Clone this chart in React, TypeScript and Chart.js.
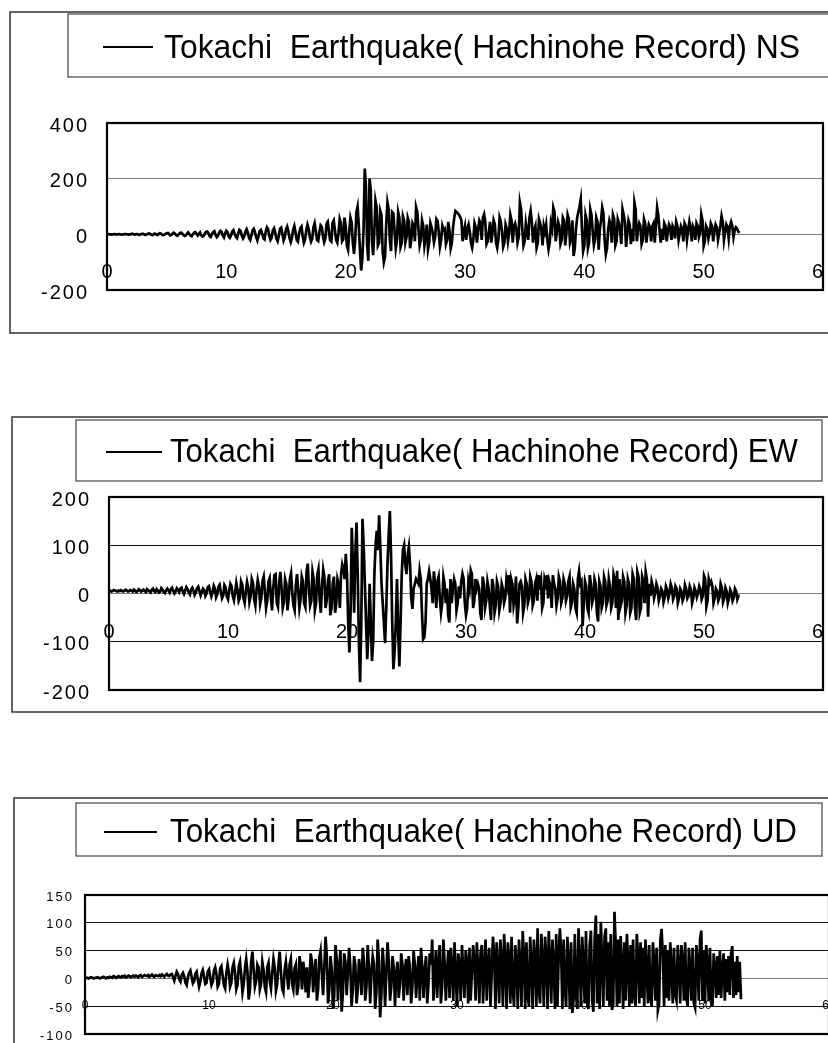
import React, { useEffect, useRef } from "react";
import { Chart, registerables } from "chart.js";

Chart.register(...registerables);

// ---------------- data ----------------
const DT = 0.1; // sampling step (s) of the digitised records
const X_TICKS = [0, 10, 20, 30, 40, 50, 60];
const NS_Y_TICKS = [-200, 0, 200, 400];
const EW_Y_TICKS = [-200, -100, 0, 100, 200];
const UD_Y_TICKS = [-100, -50, 0, 50, 100, 150];

const NS_LABEL = "Tokachi  Earthquake( Hachinohe Record) NS";
const EW_LABEL = "Tokachi  Earthquake( Hachinohe Record) EW";
const UD_LABEL = "Tokachi  Earthquake( Hachinohe Record) UD";

// one row per second, 10 samples per row
const NS_VALUES = [
  0, 1, 0, 0, -1, 0, 1, 0, 0, 0,
  1, 0, -1, 0, 0, 1, 1, 0, -1, 0,
  0, 2, 1, -1, 0, 1, 0, -2, 0, 1,
  2, 0, -2, -1, 1, 3, 2, -1, -3, 0,
  3, 1, -2, 0, 4, 3, -1, -3, -2, 2,
  4, 5, 1, -4, -2, 3, 6, 2, -3, -5,
  0, 4, 6, 3, -2, -6, -4, 2, 7, 1,
  -5, -7, 0, 6, 8, 2, -4, 1, 7, -3,
  -8, -6, 3, 9, 10, 4, -6, -9, 2, 8,
  11, -2, -10, -5, 6, 12, 9, -4, -11, 3,
  13, 8, -7, -12, -3, 10, 15, 2, -9, -14,
  4, 16, 12, -5, -15, -8, 9, 18, 6, -12,
  -20, -4, 14, 20, 8, -10, -22, -6, 12, 16,
  3, -14, -18, 10, 25, 18, -5, -20, -12, 15,
  22, 6, -16, -25, -4, 20, 24, 2, -22, -10,
  18, 28, 10, -14, -28, -12, 16, 30, 8, -20,
  -26, 4, 22, 28, -6, -30, -18, 14, 35, 20,
  -10, -26, -15, 25, 40, 12, -20, -24, 8, 32,
  26, -8, -28, -14, 38, 45, 10, -22, -26, 42,
  50, 15, -20, -30, 5, 55, 40, -25, -18, 60,
  30, -40, -55, 10, 60, 42, -30, -70, -20, 80,
  100, 30, -60, -130, -85, 20, 236, 170, -40, -95,
  200, 160, -20, -75, 10, 120, 95, -40, -30, 85,
  70, -60, -100, -80, 40, 115, 90, -20, -60, 80,
  75, 10, -50, -20, 80, 60, -45, -30, 65, 50,
  -30, -10, 60, 45, -50, -20, 40, 30, -25, 97,
  80, 20, -40, -20, 50, 30, -40, -10, 35, -55,
  -30, 40, 25, 5, -30, -10, 55, 48, 10, -45,
  -20, 30, 15, 20, -35, -20, 45, 12, -50, -30,
  25, 60, 84, 80, 75, 70, 62, 50, -25, 10,
  30, -20, 20, 35, 10, -30, -48, -20, 40, 25,
  -30, 15, 50, 40, -20, 60, 72, 45, -35, -25,
  10, 45, -30, 5, 50, 35, -30, -48, -15, 60,
  45, 10, -45, -30, 35, 20, -25, 5, 70, 50,
  -30, 30, 40, 20, -30, -10, 114, 90, 20, -40,
  -25, 40, 10, -20, 60, 84, 45, -30, 15, 30,
  -48, -30, 55, 40, 15, -40, 30, 10, 35, -20,
  -54, -30, 40, 20, 96, 80, -25, 10, 45, 30,
  -35, -20, 60, 50, -40, 5, 70, 55, -30, -15,
  50, -78, -50, 20, 60, 80, 100, 126, 20, -60,
  -40, 70, 50, -50, -30, 90, 70, 10, -40, -20,
  60, 45, -55, 20, 50, 96, 75, -20, -72, -50,
  20, 50, 35, -30, 70, 55, -40, -25, 55, 40,
  10, -35, 90, 70, 45, -45, 5, 50, 35, -35,
  20, -25, 114, 90, -25, 20, 40, 30, -35, -20,
  55, 40, -30, 10, 35, 25, -25, 30, 40, -30,
  30, 96, 70, 15, -30, 20, -20, 40, 30, -25,
  10, 35, 25, -20, 30, 20, -15, 45, 30, -20,
  5, 30, 20, -25, 40, 30, -20, 15, 45, 20,
  -25, 30, 20, -20, 40, 30, -10, 5, 72, 50,
  -42, -25, 30, 20, -15, 5, 40, 30, -25, 10,
  35, 25, -20, 5, 30, 66, 45, -20, 10, 35,
  25, -15, 30, 45, 30, -10, 15, 25, 20, 10,
  5,
];

const EW_VALUES = [
  5, 6, 4, 5, 7, 6, 5, 4, 6, 5,
  7, 5, 4, 6, 8, 6, 4, 5, 7, 6,
  4, 8, 6, 3, 5, 9, 7, 4, 6, 8,
  5, 3, 9, 7, 4, 2, 8, 10, 5, 3,
  9, 6, 2, 4, 11, 8, 3, 1, 7, 10,
  6, 2, 9, 12, 5, 0, 4, 11, 8, 3,
  10, 12, 4, -1, 6, 13, 9, 2, -2, 8,
  12, 6, -3, 2, 11, 14, 5, -4, 3, 10,
  7, -5, 0, 13, 15, 4, -6, 2, 16, 10,
  -8, -2, 14, 18, 3, -10, -4, 17, 12, -6,
  -12, 6, 20, 15, -5, -14, 2, 22, 8, -15,
  -8, 25, 18, -10, -20, 5, 24, 12, -18, -6,
  30, 22, -12, -25, 8, 28, 15, -22, -10, 26,
  35, 4, -30, -15, 25, 32, -8, -35, 10, 38,
  40, -20, -28, 22, 45, 12, -30, -18, 30, 20,
  -35, -10, 30, 42, 2, -25, -35, 18, 40, 8,
  -30, -12, 35, 25, -20, -28, 45, 62, 10, -25,
  -15, 45, 30, -35, -20, 38, 50, -10, -40, 15,
  50, 35, -30, -12, 25, 40, -45, -30, 20, 35,
  -40, -20, 30, 20, -30, 40, 60, 50, 30, 82,
  40, -60, -122, -40, 136, 60, -40, 80, 147, 40,
  -100, -184, -60, 155, 100, 20, -60, -136, -80, 20,
  -60, -140, -100, 40, 100, 130, 90, 162, 96, 20,
  -20, -60, -103, -30, 60, 120, 171, 80, -60, -157,
  -120, -60, 30, -80, -151, -60, 40, 90, 100, 60,
  40, 80, 97, 60, -10, -32, 10, 20, 30, 25,
  20, 48, 30, -40, -95, -91, -60, 21, 30, 46,
  30, 10, -20, 46, 20, -30, 25, 35, -10, -40,
  -20, 35, 20, -20, 10, -45, -60, 30, -20, 10,
  30, 20, -35, -20, 15, -10, 25, 41, 30, -20,
  -45, -30, 25, 10, 48, 40, -30, -15, 30, 10,
  20, 10, -40, -55, 35, 20, -30, -15, 25, 10,
  -25, -55, 30, 15, -40, -25, 25, 15, -35, -20,
  20, 10, -20, -10, 30, 15, 38, -40, 30, 20,
  -25, -10, 35, -62, -30, 20, 25, 15, -40, -25,
  30, 20, -20, -10, 35, 25, -25, -15, 20, 30,
  -15, 38, 20, 30, -30, -20, 30, 20, 38, -10,
  25, 15, -30, 38, 20, 10, -25, -10, 35, 25,
  -20, -10, 30, 20, -15, -5, 25, 35, -30, -20,
  20, 10, -30, -40, 30, 46, 20, 25, -67, -20,
  25, 15, -30, -40, 38, 20, -20, -10, 30, 20,
  -40, -58, 25, 15, -30, -20, 35, 25, -25, -15,
  30, 15, -30, -20, 40, 30, -30, 47, -55, 30,
  -25, -15, 35, 25, -40, -25, 30, 20, -40, -30,
  40, 30, -30, -55, 45, 35, -40, -30, 35, 25,
  -20, 45, 30, -48, 20, -5, 25, 15, -10, 0,
  20, 12, -15, -5, 10, 5, -18, -8, 15, 8,
  -10, 0, 20, 12, -12, -5, 15, 10, -20, -10,
  10, 5, -15, -8, 18, 10, -10, -5, 15, 8,
  -20, -10, 12, 5, -8, 0, 15, 8, -12, -5,
  37, 30, -27, -15, 30, 20, 25, 15, -20, -10,
  10, 5, -15, -8, 20, 12, -18, -10, 12, 5,
  -20, -10, 8, 2, -15, -8, 10, 5, -12, -5,
  -5,
];

const UD_VALUES = [
  0, 1, 1, 0, 1, 2, 1, 0, 1, 1,
  2, 1, 0, 1, 2, 3, 1, 0, 2, 1,
  3, 2, 1, 4, 3, 1, 2, 4, 3, 2,
  4, 3, 5, 2, 3, 5, 4, 2, 4, 5,
  3, 5, 4, 2, 5, 6, 3, 4, 6, 5,
  4, 6, 3, 5, 7, 4, 3, 6, 5, 4,
  6, 4, 7, 5, 3, 6, 8, 5, 4, 7,
  8, 2, -4, 5, 12, 8, -2, -6, 6, 10,
  4, -8, -12, 2, 10, 14, 3, -9, -5, 8,
  12, -2, -15, -6, 9, 15, 4, -10, -8, 12,
  16, 2, -12, -6, 14, 20, 8, -15, -10, 18,
  22, 5, -12, -18, 10, 25, 12, -15, -8, 20,
  28, 10, -20, -12, 22, 30, 5, -25, -10, 18,
  35, 12, -38, -20, 30, 48, 15, -15, -5, 25,
  20, -20, -10, 30, 15, -15, -25, 20, 28, -5,
  -18, 10, 35, 20, -22, -10, 25, 48, 12, -18,
  -25, 15, 30, 5, -20, 25, 35, -10, -20, 18,
  25, -30, -15, 40, 22, -20, 30, 10, -25, 20,
  -35, -10, 45, 30, -25, 10, 35, -40, -20, 38,
  50, 10, -30, 20, 75, 40, -45, -20, 40, 15,
  -55, -30, 60, 35, -40, 20, 50, -60, -25, 45,
  30, -30, 10, 55, 20, -50, -20, 40, 25, -45,
  -20, 35, 15, -30, 55, 30, -40, -15, 60, 20,
  -45, 10, 40, 25, -55, -25, 70, 35, -70, -30,
  55, 20, -50, 10, 65, 30, -40, -15, 40, 20,
  -50, 5, 30, -35, -10, 45, 25, -40, 15, 35,
  -30, 40, 20, -45, -15, 50, 25, -35, 10, 40,
  -40, 55, 20, -35, 15, 40, -45, -10, 45, 25,
  70, -40, 10, 50, -35, 25, 60, -45, -15, 70,
  30, -40, 15, 50, -35, 55, 20, -40, 65, 10,
  -50, 45, 25, -40, 60, 15, -35, 50, 30, -45,
  55, -40, 10, 60, 30, -40, 65, 20, -45, 45,
  60, -45, 15, 70, -40, 30, 55, -50, 10, 75,
  40, -55, 65, 20, -45, 70, 30, -50, 80, 25,
  -55, 65, 35, -45, 75, -20, -50, 60, 30, -55,
  70, 20, -50, 85, 40, -55, 65, -30, -50, 75,
  25, -55, 70, 35, -50, 90, -20, -45, 80, 30,
  -50, 75, 40, -55, 85, 30, -45, 70, 20, -55,
  80, -50, 40, 90, 45, -55, 70, -20, -50, 75,
  30, -55, 65, -62, -40, 80, -30, -55, 90, 25,
  -50, 75, 20, -45, 85, -35, -55, 60, 86, -40,
  -60, 70, 113, -45, 80, -55, 102, 30, -50, 75,
  90, -40, 65, -50, 80, -57, -45, 120, 60, -50,
  70, -45, 76, 20, -55, 65, -40, 80, 30, -50,
  60, -45, 70, -30, -50, 80, 40, -45, 65, -35,
  55, -50, 70, 20, -45, 60, -35, -50, 65, 30,
  -40, 55, -57, -45, 70, 89, 40, -50, 60, -35,
  50, -40, 65, 20, -45, 55, -30, -40, 60, 25,
  -45, 60, 30, -40, 65, -35, -50, 55, 20, -40,
  55, -45, -53, 60, 30, -40, 70, 86, -40, 50,
  -45, 60, 25, -40, 55, -35, -50, 45, 20, -35,
  40, -30, 50, -35, 15, 45, -40, 35, -25, 40,
  -30, 45, 58, -35, 30, -30, 40, -25, 30, -35,
  -35,
];

// ---------------- layout ----------------
const CANVAS_W = 900;
const FONT = "'Liberation Sans', Arial, Helvetica, sans-serif";

type Rect = [number, number, number, number];
type PanelCfg = {
  top: number;
  height: number;
  outer: Rect;
  legend: Rect;
  legendLine: [number, number, number];
  legendText: [number, number, number]; // x, baseline, target width
  legendFont: number;
  plot: { left: number; top: number; right: number; bottom: number };
  yMin: number;
  yMax: number;
  yTicks: number[];
  yFont: number;
  ySpacing: number;
  yOffset: number;
  xFont: number;
  yPad: number;
  xPad: number;
  gridColor: string;
  zeroColor: string;
  clipRight: boolean;
  label: string;
  values: number[];
};

const PANELS: PanelCfg[] = [
  {
    top: 0,
    height: 380,
    outer: [10, 12, 890, 333],
    legend: [68, 14, 890, 77],
    legendLine: [103, 153, 47],
    legendText: [164, 58, 636],
    legendFont: 34,
    plot: { left: 107, top: 123, right: 823, bottom: 290 },
    yMin: -200,
    yMax: 400,
    yTicks: NS_Y_TICKS,
    yFont: 20,
    ySpacing: 2,
    yOffset: 3,
    xFont: 20,
    yPad: 18,
    xPad: 26,
    gridColor: "#7a7a7a",
    zeroColor: "#7a7a7a",
    clipRight: true,
    label: NS_LABEL,
    values: NS_VALUES,
  },
  {
    top: 400,
    height: 360,
    outer: [12, 17, 890, 312],
    legend: [76, 20, 822, 81],
    legendLine: [106, 162, 52],
    legendText: [170, 62, 628],
    legendFont: 34,
    plot: { left: 109, top: 97, right: 823, bottom: 290 },
    yMin: -200,
    yMax: 200,
    yTicks: EW_Y_TICKS,
    yFont: 20,
    ySpacing: 2,
    yOffset: 3,
    xFont: 20,
    yPad: 18,
    xPad: 27,
    gridColor: "#111111",
    zeroColor: "#7a7a7a",
    clipRight: true,
    label: EW_LABEL,
    values: EW_VALUES,
  },
  {
    top: 780,
    height: 300,
    outer: [14, 18, 890, 300],
    legend: [76, 23, 822, 76],
    legendLine: [104, 157, 52],
    legendText: [170, 62, 627],
    legendFont: 34,
    plot: { left: 85, top: 115, right: 829, bottom: 254 },
    yMin: -100,
    yMax: 150,
    yTicks: UD_Y_TICKS,
    yFont: 13,
    ySpacing: 2,
    yOffset: 2,
    xFont: 12,
    yPad: 11,
    xPad: 20,
    gridColor: "#111111",
    zeroColor: "#7a7a7a",
    clipRight: false,
    label: UD_LABEL,
    values: UD_VALUES,
  },
];

const framePlugin = {
  id: "excelFrame",
  beforeDraw(chart: any, _args: any, opts: any) {
    const cfg: PanelCfg = opts.cfg;
    const ctx: CanvasRenderingContext2D = chart.ctx;
    ctx.save();
    ctx.fillStyle = "#ffffff";
    ctx.fillRect(0, 0, chart.width, chart.height);
    // outer chart box
    ctx.strokeStyle = "#333333";
    ctx.lineWidth = 1.5;
    const [ol, ot, or, ob] = cfg.outer;
    ctx.strokeRect(ol, ot, or - ol, ob - ot);
    // legend box
    const [ll, lt, lr, lb] = cfg.legend;
    ctx.lineWidth = 1.2;
    ctx.strokeStyle = "#444444";
    ctx.strokeRect(ll, lt, lr - ll, lb - lt);
    // legend sample line
    const [x1, x2, ly] = cfg.legendLine;
    ctx.strokeStyle = "#000000";
    ctx.lineWidth = 2;
    ctx.beginPath();
    ctx.moveTo(x1, ly);
    ctx.lineTo(x2, ly);
    ctx.stroke();
    // legend text
    const label = chart.data.datasets[0].label as string;
    ctx.font = `${cfg.legendFont}px ${FONT}`;
    ctx.fillStyle = "#000000";
    ctx.textBaseline = "alphabetic";
    ctx.textAlign = "left";
    const [tx, ty, tw] = cfg.legendText;
    const w = ctx.measureText(label).width;
    const sx = tw / w;
    ctx.translate(tx, ty);
    ctx.scale(sx, 1);
    ctx.fillText(label, 0, 0);
    ctx.restore();

    // clip x tick labels at the plot's right border
    const xs: any = chart.scales.x;
    if (cfg.clipRight && !xs.__wrapped) {
      const orig = xs.drawLabels.bind(xs);
      xs.drawLabels = (area: any) => {
        const c = chart.ctx;
        c.save();
        c.beginPath();
        c.rect(0, 0, chart.chartArea.right, chart.height);
        c.clip();
        orig(area);
        c.restore();
      };
      xs.__wrapped = true;
    }
    // spaced-out y tick labels (Excel-like rendering)
    const ys: any = chart.scales.y;
    if (!ys.__wrapped) {
      const origY = ys.drawLabels.bind(ys);
      ys.drawLabels = (area: any) => {
        const c: any = chart.ctx;
        c.save();
        c.letterSpacing = `${cfg.ySpacing}px`;
        origY(area);
        c.restore();
      };
      ys.__wrapped = true;
    }
  },
  afterDraw(chart: any) {
    const ctx: CanvasRenderingContext2D = chart.ctx;
    const a = chart.chartArea;
    ctx.save();
    ctx.strokeStyle = "#000000";
    ctx.lineWidth = 2.2;
    ctx.strokeRect(a.left, a.top, a.right - a.left, a.bottom - a.top);
    ctx.restore();
  },
};

function Panel({ cfg }: { cfg: PanelCfg }) {
  const ref = useRef<HTMLCanvasElement | null>(null);
  useEffect(() => {
    if (!ref.current) return;
    const chart = new Chart(ref.current, {
      type: "line",
      data: {
        datasets: [
          {
            label: cfg.label,
            data: cfg.values.map((v, i) => ({ x: +(i * DT).toFixed(2), y: v })),
            borderColor: "#000000",
            borderWidth: 2.7,
            pointRadius: 0,
            fill: false,
            tension: 0,
          },
        ],
      },
      options: {
        responsive: false,
        animation: false,
        events: [],
        layout: {
          autoPadding: false,
          padding: {
            left: 0,
            top: cfg.plot.top,
            right: CANVAS_W - cfg.plot.right,
            bottom: cfg.height - cfg.plot.bottom,
          },
        },
        plugins: {
          legend: { display: false },
          tooltip: { enabled: false },
          excelFrame: { cfg },
        } as any,
        scales: {
          x: {
            type: "linear",
            min: 0,
            max: 60,
            position: { y: 0 } as any,
            afterBuildTicks: (s: any) => {
              s.ticks = X_TICKS.map((v) => ({ value: v }));
            },
            ticks: {
              autoSkip: false,
              maxRotation: 0,
              color: "#000000",
              padding: cfg.xPad,
              font: { family: FONT, size: cfg.xFont },
              callback: (v: any) => String(v),
            },
            grid: { display: false, drawTicks: false },
            border: { display: false },
          },
          y: {
            type: "linear",
            min: cfg.yMin,
            max: cfg.yMax,
            afterBuildTicks: (s: any) => {
              s.ticks = cfg.yTicks.map((v) => ({ value: v }));
            },
            afterFit: (s: any) => {
              s.width = cfg.plot.left;
            },
            ticks: {
              color: "#000000",
              padding: cfg.yPad,
              labelOffset: cfg.yOffset,
              font: { family: FONT, size: cfg.yFont },
              callback: (v: any) => String(v),
            },
            grid: {
              drawTicks: false,
              lineWidth: 1,
              color: (c: any) => (c.tick && c.tick.value === 0 ? cfg.zeroColor : cfg.gridColor),
            },
            border: { display: false },
          },
        },
      },
      plugins: [framePlugin],
    } as any);
    return () => chart.destroy();
  }, [cfg]);
  return (
    <canvas
      ref={ref}
      width={CANVAS_W}
      height={cfg.height}
      style={{ position: "absolute", left: 0, top: cfg.top, width: CANVAS_W, height: cfg.height }}
    />
  );
}

export default function App() {
  return (
    <div
      style={{
        position: "absolute",
        left: 0,
        top: 0,
        width: 828,
        height: 1043,
        overflow: "hidden",
        background: "#ffffff",
      }}
    >
      {PANELS.map((p, i) => (
        <Panel key={i} cfg={p} />
      ))}
    </div>
  );
}
